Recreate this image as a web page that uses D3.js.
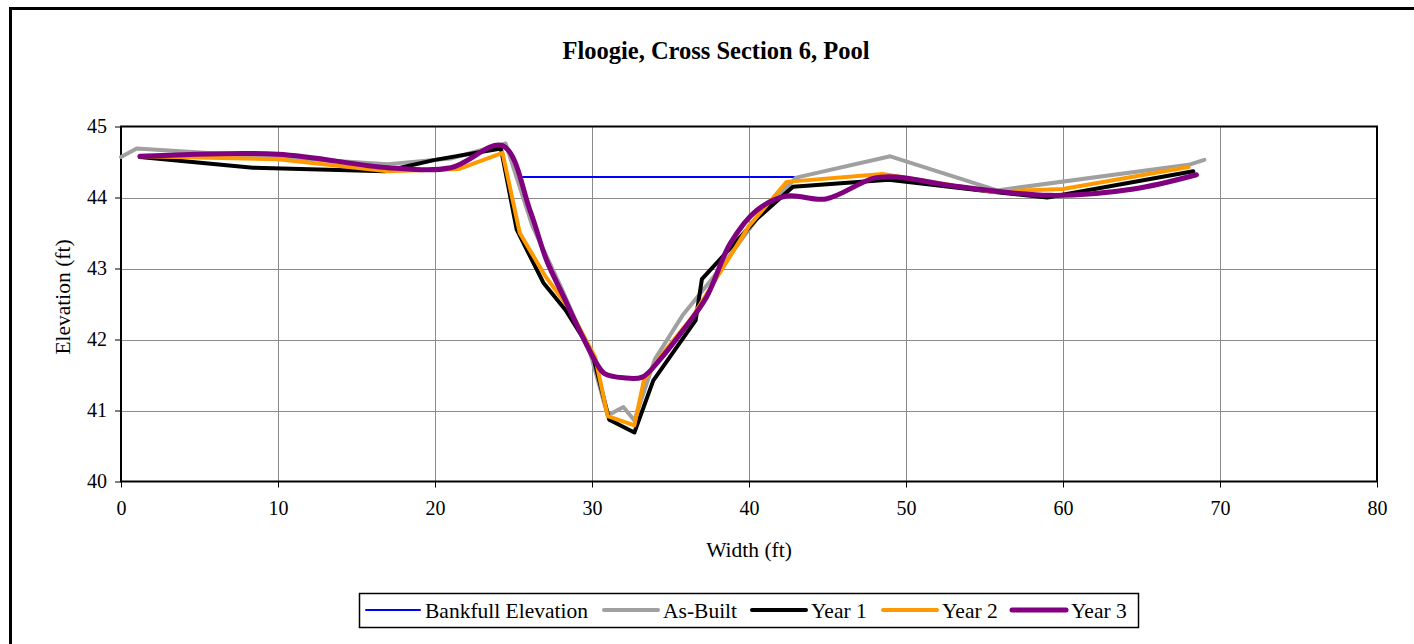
<!DOCTYPE html>
<html><head><meta charset="utf-8">
<script src="https://cdn.jsdelivr.net/npm/d3@7"></script>
<style>body{margin:0;background:#fff;}svg{display:block;font-family:"Liberation Serif","Times New Roman",serif;}</style>
</head><body>
<svg id="c" width="1414" height="644"></svg>
<script>
const title = "Floogie, Cross Section 6, Pool";
const xTicks = [0,10,20,30,40,50,60,70,80];
const yTicks = [40,41,42,43,44,45];
const seriesNames = ["Bankfull Elevation","As-Built","Year 1","Year 2","Year 3"];
const bankfull = [[25.6,44.29],[43.0,44.29]];
const asBuilt = [[0,44.57],[1,44.69],[9,44.58],[17,44.47],[21,44.55],[24.5,44.76],[26.2,43.6],[28,42.75],[29.9,41.8],[31.0,40.93],[32.0,41.05],[32.7,40.86],[34.0,41.72],[35.8,42.35],[38,42.95],[40.5,43.7],[43,44.28],[49,44.58],[55.8,44.1],[68,44.46],[69,44.53]];
const year1 = [[1.2,44.57],[8.4,44.42],[16.8,44.37],[20,44.53],[24.2,44.69],[25.2,43.55],[26.9,42.8],[28.3,42.42],[30.0,41.82],[31.1,40.87],[32.7,40.69],[33.9,41.42],[36.6,42.27],[37.0,42.85],[38.2,43.14],[40.5,43.7],[42.8,44.15],[48.9,44.25],[55.5,44.08],[59.0,44.0],[68.3,44.37]];
const year2 = [[1.2,44.58],[10,44.54],[17,44.37],[21.5,44.4],[24.3,44.63],[25.4,43.5],[27,42.9],[28.5,42.45],[30.2,41.75],[31.0,40.92],[32.7,40.79],[33.3,41.42],[34.5,41.8],[36.4,42.32],[40,43.6],[42.4,44.22],[48.5,44.33],[55.5,44.08],[60,44.12],[68,44.43]];
const year3 = [[1.2,44.58],[10,44.61],[17,44.42],[21,44.42],[24.3,44.73],[26.05,43.82],[27.1,43.12],[28.2,42.6],[29.2,42.13],[30.3,41.66],[30.8,41.52],[32.0,41.46],[33.2,41.47],[34.3,41.71],[35.8,42.13],[37.3,42.6],[38.8,43.35],[40.5,43.82],[42.4,44.02],[44.9,43.98],[47.9,44.27],[49.4,44.29],[52.8,44.17],[59.2,44.03],[64.5,44.12],[68.5,44.32]];
const colors = ["#0000ff","#a0a0a0","#000000","#ff9900","#800080"];
const widths = [2,4,4,4,5];

const svg = d3.select("#c");
svg.append("rect").attr("x",10.5).attr("y",8.5).attr("width",1420).attr("height",650)
  .attr("fill","#fff").attr("stroke","#000").attr("stroke-width",3);

const L=121,R=1377,T=126.5,B=481.5;
const x = d3.scaleLinear().domain([0,80]).range([L,R]);
const y = d3.scaleLinear().domain([40,45]).range([B,T]);

svg.append("g").selectAll("line").data(xTicks.slice(1,-1)).join("line")
  .attr("x1",d=>Math.round(x(d))+0.5).attr("x2",d=>Math.round(x(d))+0.5).attr("y1",T).attr("y2",B)
  .attr("stroke","#8c8c8c").attr("stroke-width",1);
svg.append("g").selectAll("line").data(yTicks.slice(1,-1)).join("line")
  .attr("y1",d=>Math.round(y(d))+0.5).attr("y2",d=>Math.round(y(d))+0.5).attr("x1",L).attr("x2",R)
  .attr("stroke","#8c8c8c").attr("stroke-width",1);

const xAxis = svg.append("g").attr("transform",`translate(0,${B})`)
  .call(d3.axisBottom(x).tickValues(xTicks).tickSize(6).tickPadding(13).tickFormat(d3.format("d")));
const yAxis = svg.append("g").attr("transform",`translate(${L},0)`)
  .call(d3.axisLeft(y).tickValues(yTicks).tickSize(6).tickPadding(8).tickFormat(d3.format("d")));
[xAxis,yAxis].forEach(a=>{
  a.attr("font-size",null).attr("font-family",null);
  a.select(".domain").remove();
  a.selectAll("line").attr("stroke","#000");
  a.selectAll("text").style("font-size","20px").style("font-family","'Liberation Serif',serif").attr("fill","#000");
});

svg.append("rect").attr("x",L).attr("y",T).attr("width",R-L).attr("height",B-T)
  .attr("fill","none").attr("stroke","#000").attr("stroke-width",2);

const allSeries = [bankfull,asBuilt,year1,year2,year3];
const g = svg.append("g");
allSeries.forEach((s,i)=>{
  const line = d3.line().x(d=>x(d[0])).y(d=>y(d[1]))
    .curve(i===4 ? d3.curveCatmullRom.alpha(0.5) : d3.curveLinear);
  g.append("path").datum(s).attr("d",line).attr("fill","none")
    .attr("stroke",colors[i]).attr("stroke-width",widths[i])
    .attr("stroke-linejoin","round").attr("stroke-linecap","round");
});

svg.append("text").attr("x",716).attr("y",59).attr("text-anchor","middle")
  .style("font-size","24.5px").attr("font-weight","bold").text(title);
svg.append("text").attr("x",749).attr("y",557).attr("text-anchor","middle")
  .style("font-size","21.5px").text("Width (ft)");
svg.append("text").attr("transform","translate(70,297) rotate(-90)").attr("text-anchor","middle")
  .style("font-size","21.5px").text("Elevation (ft)");

const lg = svg.append("g");
lg.append("rect").attr("x",359.5).attr("y",593.5).attr("width",779).attr("height",34)
  .attr("fill","#fff").attr("stroke","#000").attr("stroke-width",1.5);
const legX = [366,604,752,883,1012];
seriesNames.forEach((n,i)=>{
  lg.append("line").attr("x1",legX[i]).attr("x2",legX[i]+54).attr("y1",610).attr("y2",610)
    .attr("stroke",colors[i]).attr("stroke-width",widths[i]).attr("stroke-linecap","round");
  lg.append("text").attr("x",legX[i]+59).attr("y",618).style("font-size","21.5px").text(n);
});
</script>
</body></html>
